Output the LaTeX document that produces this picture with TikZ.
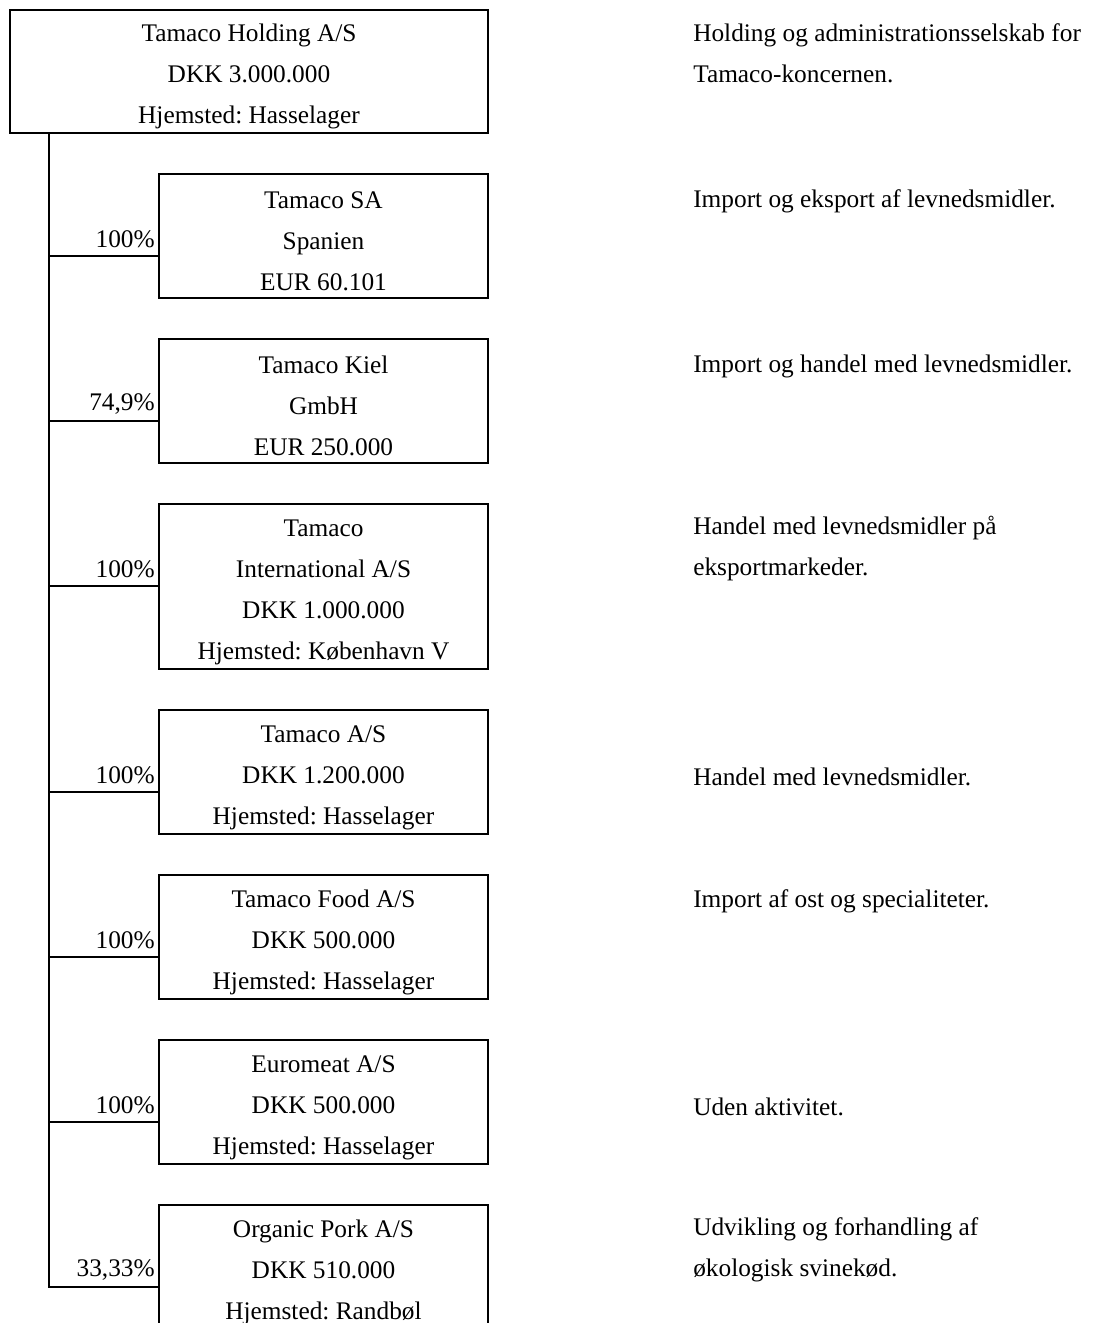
\documentclass[tikz,border=0pt]{standalone}
\usepackage{fontspec}
\setmainfont{Liberation Serif}
\usepackage{tikz}
\frenchspacing

\newcommand{\luft}{\rule{0pt}{21pt}}

\tikzset{
  firma/.style={draw, line width=1.4pt, align=center, inner sep=0pt, minimum width=246.75pt, minimum height=93pt},
  tekst/.style={anchor=west, align=left, inner sep=0pt},
  pct/.style={anchor=east, inner sep=0pt}
}

\begin{document}
\begin{tikzpicture}[x=0.75pt, y=-0.75pt, font=\fontsize{19}{30.75}\selectfont]

\useasboundingbox (0,0) rectangle (1110,1323);
\clip (0,0) rectangle (1110,1323);

\node[firma, minimum width=358.5pt, minimum height=92.25pt] (hold) at (249,71.5) {\luft Tamaco Holding A/S\\DKK 3.000.000\\Hjemsted: Hasselager};

\node[firma] (c1) at (323.5,236) {\luft Tamaco SA\\Spanien\\EUR 60.101};
\node[firma] (c2) at (323.5,401) {\luft Tamaco Kiel\\GmbH\\EUR 250.000};
\node[firma, minimum height=123.75pt] (c3) at (323.5,586.5) {\luft Tamaco\\International A/S\\DKK 1.000.000\\Hjemsted: København V};
\node[firma] (c4) at (323.5,772) {\luft Tamaco A/S\\DKK 1.200.000\\Hjemsted: Hasselager};
\node[firma] (c5) at (323.5,937) {\luft Tamaco Food A/S\\DKK 500.000\\Hjemsted: Hasselager};
\node[firma] (c6) at (323.5,1102) {\luft Euromeat A/S\\DKK 500.000\\Hjemsted: Hasselager};
\node[firma] (c7) at (323.5,1267) {\luft Organic Pork A/S\\DKK 510.000\\Hjemsted: Randbøl};

% ejerandele
\node[pct] (p1) at (155,239) {100\%};
\node[pct] (p2) at (155,404) {74,9\%};
\node[pct] (p3) at (155,569) {100\%};
\node[pct] (p4) at (155,775) {100\%};
\node[pct] (p5) at (155,940) {100\%};
\node[pct] (p6) at (155,1105) {100\%};
\node[pct] (p7) at (155,1270) {33,33\%};

% forbindelser
\coordinate (j1) at (49,256);
\coordinate (j2) at (49,421);
\coordinate (j3) at (49,586);
\coordinate (j4) at (49,792);
\coordinate (j5) at (49,957);
\coordinate (j6) at (49,1122);
\coordinate (j7) at (49,1287);

\draw[line width=1.4pt] (hold.south -| j7) -- (j7) -- (j7 -| c7.west);
\draw[line width=1.4pt] (j1) -- (j1 -| c1.west);
\draw[line width=1.4pt] (j2) -- (j2 -| c2.west);
\draw[line width=1.4pt] (j3) -- (j3 -| c3.west);
\draw[line width=1.4pt] (j4) -- (j4 -| c4.west);
\draw[line width=1.4pt] (j5) -- (j5 -| c5.west);
\draw[line width=1.4pt] (j6) -- (j6 -| c6.west);

% beskrivelser
\node[tekst] (d0) at (693,53.5) {Holding og administrationsselskab for\\Tamaco-koncernen.};
\node[tekst] (d1) at (693,201) {Import og eksport af levnedsmidler.};
\node[tekst] (d2) at (693,366) {Import og handel med levnedsmidler.};
\node[tekst] (d3) at (693,548.5) {Handel med levnedsmidler på\\eksportmarkeder.};
\node[tekst] (d4) at (693,777) {Handel med levnedsmidler.};
\node[tekst] (d5) at (693,901) {Import af ost og specialiteter.};
\node[tekst] (d6) at (693,1107) {Uden aktivitet.};
\node[tekst] (d7) at (693,1249.5) {Udvikling og forhandling af\\økologisk svinekød.};

\end{tikzpicture}
\end{document}
